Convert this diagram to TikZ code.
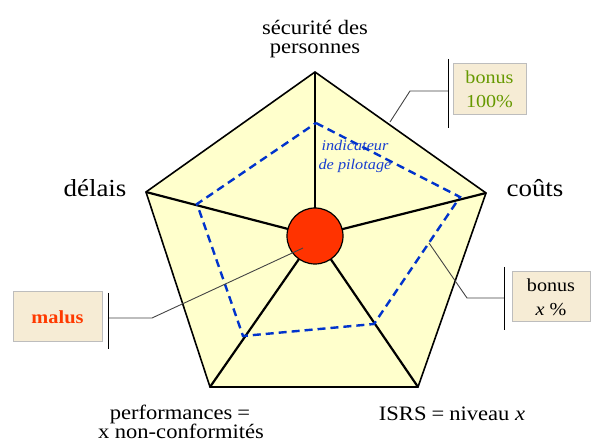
\documentclass[tikz,border=0pt]{standalone}
\usepackage{fontspec}
\setmainfont[FakeStretch=1.1]{Liberation Serif}
\definecolor{pentafill}{HTML}{FFFFCC}
\definecolor{hubred}{HTML}{FF3300}
\definecolor{dashblue}{HTML}{0033CC}
\definecolor{txtblue}{HTML}{1A3FD0}
\definecolor{boxfill}{HTML}{F6ECD5}
\definecolor{boxgray}{HTML}{BDBDBD}
\definecolor{bonusgreen}{HTML}{669900}
\definecolor{malusred}{HTML}{FF3A00}
\definecolor{calloutgray}{HTML}{444444}
\begin{document}
\begin{tikzpicture}[x=1pt,y=-1pt,
  lbl/.style={font=\fontsize{20.5}{20}\selectfont, anchor=base, inner sep=0pt},
  biglbl/.style={font=\fontsize{24.5}{26}\selectfont, anchor=base, inner sep=0pt},
  indic/.style={font=\fontsize{14.8}{18}\selectfont\itshape, text=txtblue, anchor=base, inner sep=0pt},
  infobox/.style={draw=boxgray, fill=boxfill, line width=1pt, inner sep=0pt, align=center, font=\fontsize{18.3}{24}\selectfont},
  spoke/.style={draw=black, line width=2.2pt},
  dashline/.style={draw=dashblue, line width=2.4pt, dash pattern=on 8pt off 5pt},
  callout/.style={draw=calloutgray, line width=0.9pt},
  bar/.style={draw=black, line width=1pt}]
\useasboundingbox (0,0) rectangle (592,443);

% pentagon vertices
\coordinate (T) at (315,72);
\coordinate (R) at (486,193);
\coordinate (BR) at (418,387);
\coordinate (BL) at (210,387);
\coordinate (L) at (146,192);
\coordinate (C) at (315,236);

\filldraw[fill=pentafill, draw=black, line width=1.6pt, line join=miter] (T) -- (R) -- (BR) -- (BL) -- (L) -- cycle;
\draw[black, line width=2.2pt] (BL) -- (BR);
\foreach \p in {T,R,BR,BL,L} \draw[spoke] (C) -- (\p);

% dashed indicator polygon
\coordinate (D1) at (316,123);
\coordinate (D2) at (460,197);
\coordinate (D3) at (374,324);
\coordinate (D4) at (243,336);
\coordinate (D5) at (197,204);
\draw[dashline, line join=miter] (D1) -- (D2) -- (D3) -- (D4) -- (D5) -- cycle;

\node[indic] (ind1) at (355,151) {indicateur};
\node[indic] (ind2) at (355,170) {de pilotage};

% hub
\node[circle, draw=black, fill=hubred, line width=1.2pt, minimum size=56pt, inner sep=0pt] (hub) at (C) {};

% labels
\node[lbl] (sec1) at (315,35) {sécurité des};
\node[lbl] (sec2) at (315,54) {personnes};
\node[biglbl] (delais) at (95,197) {délais};
\node[biglbl] (couts) at (535,197) {coûts};
\node[lbl] (perf1) at (180,420) {performances\hspace{5pt}=\hspace{3pt}};
\node[lbl] (perf2) at (181,439) {x non-conformités};
\node[lbl] (isrs) at (452,421) {ISRS\hspace{5pt}=\hspace{5pt}niveau \textit{x}};

% boxes
\node[infobox, minimum width=73pt, minimum height=51pt, text=bonusgreen] (b100) at (489.5,89.5) {bonus\\100\%};
\node[infobox, minimum width=78pt, minimum height=50pt, text=black] (bx) at (551,297) {bonus\\\textit{x} \%};
\node[infobox, minimum width=89pt, minimum height=50pt, text=malusred, font=\fontsize{18.5}{24}\selectfont\bfseries] (malus) at (57.5,317) {malus};

% callouts
\coordinate (c1a) at (390,122);
\coordinate (c1b) at (410,91);
\coordinate (c1c) at (448,91);
\coordinate (v1a) at (448,59);
\coordinate (v1b) at (448,128);
\draw[callout] (c1a) -- (c1b) -- (c1c);
\draw[bar] (v1a) -- (v1b);

\coordinate (c2a) at (429,243);
\coordinate (c2b) at (467,298);
\coordinate (c2c) at (504,298);
\coordinate (v2a) at (504,267);
\coordinate (v2b) at (504,330);
\draw[callout] (c2a) -- (c2b) -- (c2c);
\draw[bar] (v2a) -- (v2b);

\coordinate (c3a) at (303,248);
\coordinate (c3b) at (152,318);
\coordinate (c3c) at (108,318);
\coordinate (v3a) at (108,293);
\coordinate (v3b) at (108,349);
\draw[callout] (c3a) -- (c3b) -- (c3c);
\draw[bar] (v3a) -- (v3b);
\end{tikzpicture}
\end{document}
